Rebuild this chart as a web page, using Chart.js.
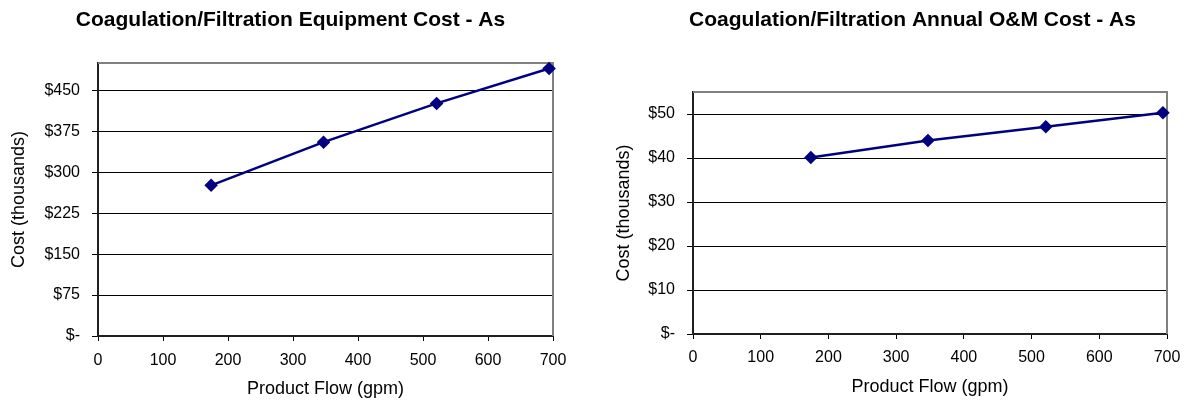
<!DOCTYPE html>
<html>
<head>
<meta charset="utf-8">
<script src="https://cdn.jsdelivr.net/npm/chart.js@4/dist/chart.umd.min.js"></script>
<style>
  html, body { margin: 0; padding: 0; background: #fff; overflow: hidden; }
  body { width: 1184px; height: 400px; position: relative; }
  .panel { position: absolute; top: 0; }
</style>
</head>
<body>
<div class="panel" style="left:0px"><canvas id="equip" width="581" height="400"></canvas></div>
<div class="panel" style="left:600px"><canvas id="om" width="625" height="400"></canvas></div>
<script>
// Product flow (gpm) for the four design sizes
const flow = [174, 347, 521, 694];
// Equipment cost, thousands of dollars
const equipCost = [276, 355, 426, 490];
// Annual O&M cost, thousands of dollars
const omCost = [40.1, 44.0, 47.1, 50.3];

const flowTicks = [0, 100, 200, 300, 400, 500, 600, 700];
const equipTicks = [0, 75, 150, 225, 300, 375, 450];
const omTicks = [0, 10, 20, 30, 40, 50];

const FONT = "'Liberation Sans', Arial, Helvetica, sans-serif";
const NAVY = '#000080';

function money(v) { return v === 0 ? '$-' : '$' + v; }

// Grey frame on the top and right edges of the plot area
const plotFrame = {
  id: 'plotFrame',
  beforeDatasetsDraw(chart) {
    const { ctx, chartArea: a } = chart;
    ctx.save();
    ctx.strokeStyle = '#808080';
    ctx.lineWidth = 2;
    ctx.beginPath();
    ctx.moveTo(a.left, a.top);
    ctx.lineTo(a.right, a.top);
    ctx.lineTo(a.right, a.bottom);
    ctx.stroke();
    ctx.restore();
  }
};

function makeChart(id, opts) {
  const points = flow.map((x, i) => ({ x: x, y: opts.values[i] }));
  return new Chart(document.getElementById(id), {
    type: 'line',
    data: {
      datasets: [{
        data: points,
        borderColor: NAVY,
        backgroundColor: NAVY,
        borderWidth: 2.5,
        pointStyle: 'rectRot',
        pointRadius: 5,
        pointHoverRadius: 5,
        pointBackgroundColor: NAVY,
        pointBorderColor: NAVY,
        tension: 0,
        clip: false
      }]
    },
    options: {
      responsive: false,
      animation: false,
      events: [],
      layout: { padding: 0 },
      plugins: {
        legend: { display: false },
        tooltip: { enabled: false },
        title: {
          display: true,
          text: opts.title,
          color: '#000',
          font: { family: FONT, size: 21, weight: 'bold', lineHeight: 1.2 },
          padding: { top: 7.4, bottom: opts.titleGap }
        }
      },
      scales: {
        x: {
          type: 'linear',
          min: 0,
          max: 700,
          afterFit(s) { s.height = opts.xHeight; },
          afterBuildTicks(s) { s.ticks = flowTicks.map(v => ({ value: v })); },
          ticks: {
            color: '#000',
            font: { family: FONT, size: 16 },
            padding: opts.xTickPad,
            maxRotation: 0,
            autoSkip: false
          },
          grid: { drawOnChartArea: false, drawTicks: true, tickLength: 5, tickColor: '#000', tickWidth: 1 },
          border: { display: true, color: '#202020', width: 2 },
          title: {
            display: true,
            text: 'Product Flow (gpm)',
            color: '#000',
            font: { family: FONT, size: 18, lineHeight: 1.2 },
            padding: { top: 0, bottom: opts.xTitlePad }
          }
        },
        y: {
          type: 'linear',
          min: 0,
          max: opts.yMax,
          afterFit(s) { s.width = opts.yWidth; },
          afterBuildTicks(s) { s.ticks = opts.yTicks.map(v => ({ value: v })); },
          ticks: {
            color: '#000',
            font: { family: FONT, size: 16 },
            padding: 12,
            callback: v => money(v)
          },
          grid: { color: '#000', lineWidth: 1, drawTicks: true, tickLength: 6, tickColor: '#000' },
          border: { display: true, color: '#202020', width: 2 },
          title: {
            display: true,
            text: 'Cost (thousands)',
            color: '#000',
            font: { family: FONT, size: 18, lineHeight: 1.2 },
            padding: { top: opts.yTitlePad, bottom: 0 }
          }
        },
        // empty margin on the right of the plot, so the title stays centred on the panel
        gutter: {
          type: 'linear',
          position: 'right',
          display: true,
          min: 0,
          max: 1,
          afterFit(s) { s.width = opts.gutter; },
          ticks: { display: false },
          grid: { display: false, drawTicks: false },
          border: { display: false },
          title: { display: false }
        }
      }
    },
    plugins: [plotFrame]
  });
}

makeChart('equip', {
  title: 'Coagulation/Filtration Equipment Cost - As',
  values: equipCost,
  yTicks: equipTicks,
  yMax: 500,
  gutter: 28,
  titleGap: 30.4,
  xHeight: 64,
  yWidth: 98,
  xTickPad: 10,
  xTitlePad: 0,
  yTitlePad: 8.7
});

makeChart('om', {
  title: 'Coagulation/Filtration Annual O&M Cost - As',
  values: omCost,
  yTicks: omTicks,
  yMax: 55,
  gutter: 58,
  titleGap: 59.4,
  xHeight: 66,
  yWidth: 93,
  xTickPad: 8.7,
  xTitlePad: 2.5,
  yTitlePad: 13.7
});
</script>
</body>
</html>
